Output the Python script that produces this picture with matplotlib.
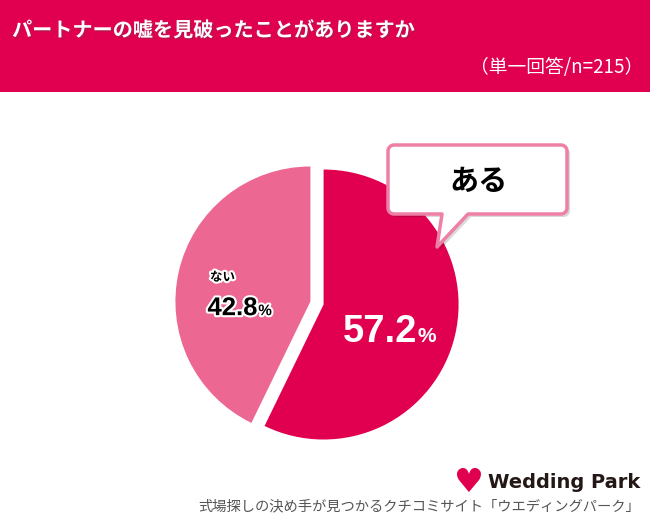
import numpy as np
import matplotlib
matplotlib.use("Agg")
import matplotlib.pyplot as plt
from matplotlib.patches import Rectangle, Polygon
import matplotlib.patheffects as pe

plt.rcParams['font.family'] = ['Noto Sans CJK JP', 'DejaVu Sans']

# ---- data ----
categories = ["ある", "ない"]
values = [57.2, 42.8]
colors = ["#E0004F", "#EC6893"]
title = "パートナーの嘘を見破ったことがありますか"
subtitle = "（単一回答/n=215）"
brand = "Wedding Park"
caption = "式場探しの決め手が見つかるクチコミサイト「ウエディングパーク」"

W, H = 650, 526
fig = plt.figure(figsize=(W / 100, H / 100), dpi=100)
fig.patch.set_facecolor("white")

# ---- pie ----
r_px = 135
cx, cy = 317, 303
half = 1.2 * r_px
ax = fig.add_axes([(cx - half) / W, (H - cy - half) / H, 2 * half / W, 2 * half / H])
wedges, _ = ax.pie(values, colors=colors, startangle=90, counterclock=False,
                   explode=[0.05, 0.05], radius=1.0,
                   wedgeprops=dict(linewidth=0))
ax.set_xlim(-1.2, 1.2)
ax.set_ylim(-1.2, 1.2)
ax.set_aspect("equal")
ax.axis("off")

num_font = ["Liberation Sans", "DejaVu Sans"]

# 57.2% (white, large)
ax.text(0.745, -0.29, f"{values[0]}", color="white", fontsize=27.5,
        fontweight="bold", family=num_font, ha="right", va="baseline")
ax.text(0.745, -0.29, "%", color="white", fontsize=15,
        fontweight="bold", family=num_font, ha="left", va="baseline")

# ない 42.8%
stroke = [pe.withStroke(linewidth=3, foreground="white")]
ax.text(-0.70, 0.19, categories[1], color="black", fontsize=9,
        fontweight="bold", ha="center", va="center", path_effects=stroke)
ax.text(-0.44, -0.09, f"{values[1]}", color="black", fontsize=18.5,
        fontweight="bold", family=num_font, ha="right", va="baseline",
        path_effects=stroke)
ax.text(-0.435, -0.09, "%", color="black", fontsize=11,
        fontweight="bold", family=num_font, ha="left", va="baseline",
        path_effects=stroke)

# ---- overlay in pixel coords ----
ov = fig.add_axes([0, 0, 1, 1], zorder=5)
ov.set_xlim(0, W)
ov.set_ylim(H, 0)
ov.axis("off")
ov.patch.set_alpha(0)

# header band
ov.add_patch(Rectangle((0, 0), W, 92, facecolor="#E0004F", edgecolor="none"))
ov.text(12, 30, title, color="white", fontsize=14.5, fontweight="bold",
        ha="left", va="center",
        path_effects=[pe.withSimplePatchShadow(offset=(1, -1), alpha=0.3)])
ov.text(643, 68, subtitle, color="white", fontsize=13.5, ha="right", va="center")

# speech bubble
def rounded_box(x0, y0, x1, y1, rad, tail):
    pts = []
    corners = [(x1 - rad, y0 + rad, -90, 0), (x1 - rad, y1 - rad, 0, 90),
               (x0 + rad, y1 - rad, 90, 180), (x0 + rad, y0 + rad, 180, 270)]
    for i, (ccx, ccy, a0, a1) in enumerate(corners):
        a = np.deg2rad(np.linspace(a0, a1, 8))
        pts += list(zip(ccx + rad * np.cos(a), ccy + rad * np.sin(a)))
        if i == 1:
            pts += tail
    return pts

tail = [(468, 214), (437, 247), (442, 214)]
bub = rounded_box(388, 145, 567, 214, 6, tail)
shadow = [(px + 3, py + 3) for px, py in bub]
ov.add_patch(Polygon(shadow, closed=True, facecolor="#000000", alpha=0.15,
                     edgecolor="none"))
ov.add_patch(Polygon(bub, closed=True, facecolor="white", edgecolor="#EE7FA6",
                     linewidth=2.5, joinstyle="round"))
ov.text(478, 181, categories[0], color="black", fontsize=21, fontweight="bold",
        ha="center", va="center")

# footer brand
ov.text(468, 482, "\u2665", color="#E0004F", fontsize=24, ha="center",
        va="center", family=["DejaVu Sans"])
ov.text(640, 482, brand, color="#231815", fontsize=14, fontweight="bold",
        ha="right", va="center", family=["DejaVu Sans"])
ov.text(640, 506, caption, color="#555555", fontsize=10.3, ha="right",
        va="center")

fig.savefig("out.png", dpi=100)
